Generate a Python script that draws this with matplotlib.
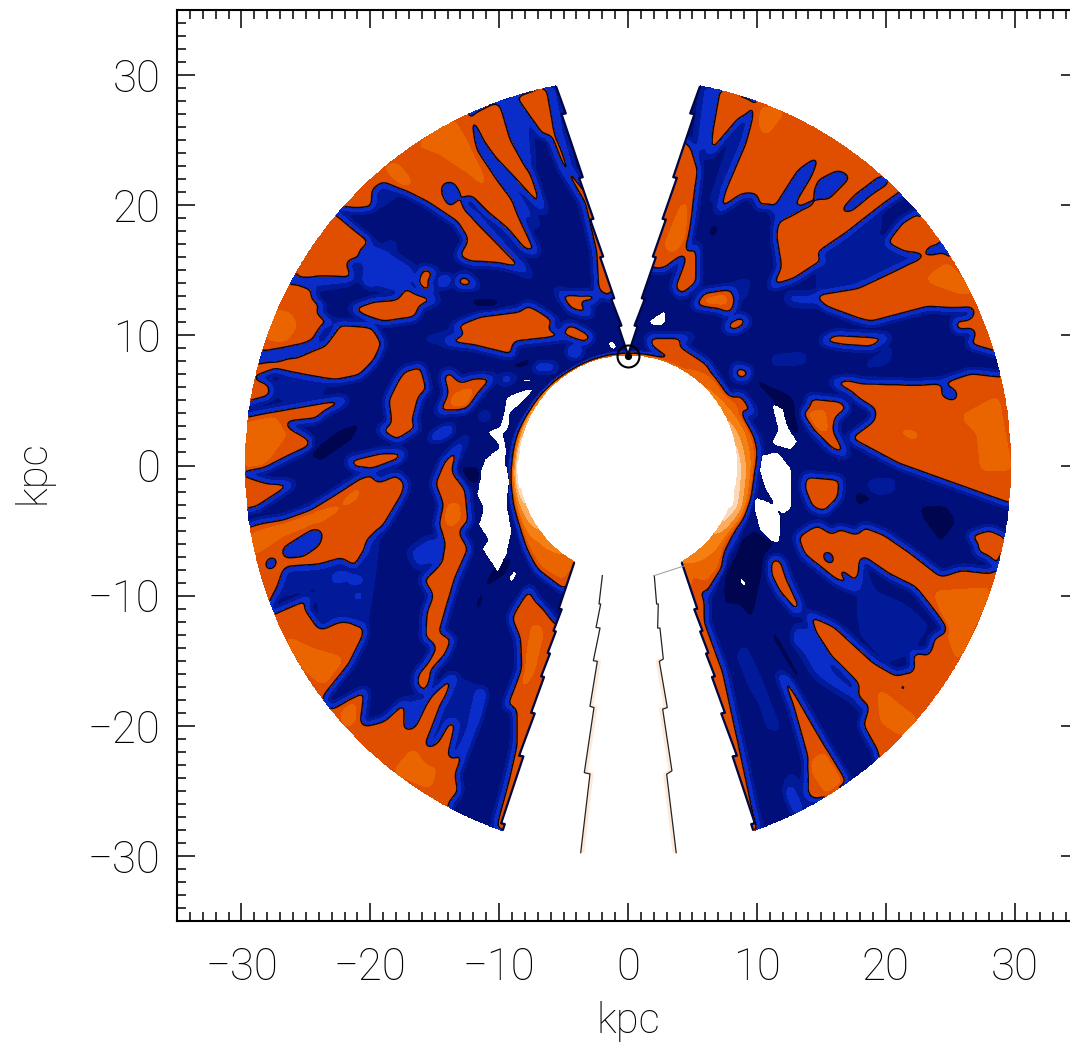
import numpy as np
import matplotlib
matplotlib.use("Agg")
import matplotlib.pyplot as plt
from matplotlib.path import Path
from matplotlib.ticker import MultipleLocator, FuncFormatter

# ---- data ----------------------------------------------------------------
# Outlines of the mapped regions, read in four crops of the map; each crop has its own
# origin in picture pixels and a 3x scale, and is turned into kpc below.
crop_origin = {'q1': (240, 80), 'q2': (628, 80), 'q3': (240, 465), 'q4': (628, 465)}
R_IN, R_OUT, SUN_Y = 8.5, 29.7, 8.5

orange_q1 = [
    [(685,100),(720,190),(790,310),(860,450),(895,525),(850,510),(800,450),(740,400),(690,350),(665,360),(680,395),(720,430),(790,500),(840,560),(880,600),(840,570),(780,555),(720,550),(690,550),(650,530),(680,480),(650,430),(560,370),(500,340),(430,310),(400,330),(400,385),(350,390),(300,385),(200,300),(400,50),(685,50)],
    [(290,400),(350,450),(395,485),(365,505),(355,540),(320,545),(345,600),(300,590),(230,590),(175,600),(100,500),(200,350)],
    [(175,610),(225,630),(215,650),(255,685),(225,690),(260,720),(300,730),(250,735),(225,775),(190,790),(60,815),(0,800),(100,600)],
    [(330,685),(400,660),(470,655),(500,620),(530,640),(600,660),(540,680),(530,715),(430,730),(370,710)],
    [(410,610),(440,600),(470,625),(450,635)],
    [(530,610),(545,560),(590,575),(565,605),(585,640),(545,630)],
    [(650,590),(680,585),(715,620),(650,620)],
    [(605,590),(630,590),(625,615),(590,620)],
    [(365,590),(385,590),(400,625),(375,610)],
    [(440,490),(462,495),(455,510)],
    [(472,530),(490,545),(480,560)],
    [(430,790),(400,740),(370,735),(300,730),(255,790),(250,800),(130,840),(60,850),(0,850),(0,905),(100,870),(200,890),(285,905),(360,890),(405,845)],
    [(0,900),(50,895),(90,910),(95,950),(40,965),(0,975)],
    [(0,1010),(100,990),(300,955),(325,960),(280,985),(250,1000),(230,1020),(130,1030),(210,1075),(215,1100),(150,1130),(80,1165),(0,1178)],
    [(645,735),(720,705),(840,690),(860,670),(900,690),(950,725),(920,745),(1000,770),(820,790),(820,830),(700,800),(610,790),(590,780),(610,770),(660,765),(640,750)],
    [(945,625),(1010,660),(1060,700),(1040,705),(990,690)],
    [(990,730),(1060,770),(1040,790),(990,775),(965,745)],
    [(950,640),(1000,640),(1070,640),(1075,660),(1045,670)],
    [(990,800),(1025,800),(1015,830),(985,825)],
    [(880,855),(950,855),(940,868),(885,868)],
    [(770,898),(830,885),(800,908)],
    [(605,885),(630,870),(660,905),(700,890),(765,890),(720,940),(680,990),(590,1000),(620,940)],
    [(490,870),(545,855),(565,930),(540,950),(520,1030),(540,1040),(470,1085),(415,1050),(450,1030),(440,960),(470,900)],
    [(320,1140),(420,1115),(495,1115),(480,1140),(400,1170),(340,1165)],
    [(565,1080),(600,1050),(640,1035),(630,1060),(585,1080)],
    [(715,1010),(745,1000),(740,1015)],
    [(825,45),(920,15),(945,150),(990,265),(1060,360),(1130,640),(1090,630),(1030,370),(965,265),(925,165),(905,170),(860,100)],
    [(690,100),(770,60),(830,180),(880,290),(918,405),(860,340),(790,260),(740,200)],
    [(1060,440),(1120,600),(1110,660),(1070,630)],
]
orange_q2 = [
    [(275,20),(385,60),(330,125),(275,190),(240,235),(250,150)],
    [(390,60),(350,100),(330,180),(290,330),(265,400),(345,345),(385,345),(390,385),(420,375),(440,390),(445,425),(440,470),(455,560),(425,625),(500,600),(600,535),(565,525),(660,460),(770,375),(820,340),(850,300),(800,100),(400,0)],
    [(770,490),(830,520),(885,525),(905,505),(935,495),(960,470),(870,395),(820,425)],
    [(565,640),(570,665),(595,685),(690,720),(730,730),(900,685),(975,690),(1060,685),(1040,560),(960,520),(905,520),(860,540),(830,555),(690,620)],
    [(1040,685),(1025,720),(1040,760),(1020,795),(1105,820),(1200,800),(1100,650)],
    [(975,720),(1025,715),(1035,750),(985,755)],
    [(580,780),(620,760),(790,770),(730,805),(650,800),(590,790)],
    [(195,680),(225,635),(330,620),(320,690),(300,705),(270,690)],
    [(290,750),(300,725),(340,705),(365,725),(325,755)],
    [(320,855),(370,870),(355,900),(320,895)],
    [(300,950),(340,940),(385,1005),(325,990)],
    [(60,770),(200,770),(150,790),(240,850),(250,880),(180,850),(100,825),(65,800)],
    [(135,625),(175,520),(210,490),(210,610),(160,650)],
    [(110,570),(175,520),(195,420),(205,340),(215,270),(190,195),(130,150),(60,570)],
    [(605,905),(660,895),(700,905),(870,910),(940,905),(1030,875),(1115,885),(1200,885),(1200,1275),(1145,1275),(810,1155),(660,1075),(735,1020),(740,990),(690,960),(670,940)],
    [(540,950),(640,960),(665,985),(625,1015),(620,1050),(660,1130),(610,1110),(560,1060),(520,1000),(545,975)],
    [(100,825),(170,845),(240,850),(260,885),(300,950),(340,1000),(385,1070),(395,1120),(385,1170),(300,1170),(250,950)],
    [(435,838),(530,830),(525,840),(440,845)],
]
orange_q3 = [
    [(0,25),(80,50),(165,55),(50,130),(0,140)],
    [(0,190),(60,170),(130,160),(210,130),(290,80),(360,35),(400,25),(410,50),(470,25),(500,55),(490,90),(430,190),(405,215),(385,240),(345,310),(305,285),(250,300),(135,310),(135,325),(100,395),(85,440),(60,450),(0,300)],
    [(105,440),(220,390),(195,425),(240,490),(300,465),(375,470),(375,510),(330,600),(250,700),(270,730),(380,670),(365,780),(430,765),(500,700),(490,795),(525,790),(565,700),(575,685),(640,625),(650,640),(605,720),(575,800),(555,850),(590,830),(625,770),(650,770),(625,880),(655,870),(690,790),(720,670),(735,680),(715,760),(680,850),(650,930),(660,980),(630,1015),(630,1090),(200,900),(0,500)],
    [(690,-95),(610,-15),(580,55),(605,120),(590,180),(615,235),(605,290),(545,345),(575,390),(555,440),(550,520),(605,495),(620,440),(650,340),(690,250),(660,200),(690,170),(680,70),(640,20),(655,-40)],
    [(550,520),(600,500),(640,520),(620,570),(575,620),(575,645),(555,690),(525,660),(530,625),(560,590),(585,545)],
    [(870,365),(885,400),(915,430),(945,470),(1000,500),(880,1120),(765,1095),(770,1060),(800,950),(825,840),(825,730),(795,725),(840,610),(835,520),(810,460),(825,430),(850,390)],
    [(830,0),(880,0),(1000,290),(990,345),(975,380),(890,310),(860,255),(845,200),(825,120)],
    [(340,395),(358,375),(360,420),(335,430)],
    [(270,345),(310,320),(375,345),(350,355),(300,345)],
]
orange_q4 = [
    [(505,215),(540,190),(570,175),(615,205),(630,185),(690,205),(705,180),(770,205),(850,260),(940,330),(1000,310),(1085,320),(1110,310),(1200,330),(1150,800),(750,900),(745,860),(700,780),(720,720),(690,700),(690,660),(640,610),(610,580),(530,440),(620,480),(740,590),(810,630),(820,620),(855,620),(850,560),(905,560),(915,515),(960,495),(860,370),(780,330),(700,275),(690,380),(625,350),(525,270)],
    [(735,445),(775,490),(800,510),(830,550),(780,540),(730,490)],
    [(425,280),(460,280),(480,340),(520,425),(510,450),(450,380),(425,330)],
    [(500,500),(530,505),(570,590),(570,630),(545,600),(500,525)],
    [(450,620),(480,640),(560,780),(660,950),(600,1000),(535,1010),(535,880),(490,720)],
    [(475,950),(525,1040),(505,1045),(480,990)],
    [(170,295),(225,395),(235,400),(235,470),(290,620),(340,850),(380,1040),(395,1095),(350,1120),(100,300)],
    [(300,0),(385,0),(370,100),(345,160),(295,210),(285,255),(295,300),(270,330),(235,395),(170,295),(150,250)],
    [(530,30),(640,40),(635,100),(590,145),(550,130),(525,70)],
    [(1020,210),(1085,190),(1140,215),(1110,310),(1085,280),(1040,260),(1050,240)],
]
light_q1 = [
    [(530,195),(640,120),(700,220),(745,330),(690,280),(600,220)],
    [(430,260),(470,250),(520,310),(490,320)],
    [(70,770),(100,690),(150,700),(170,740),(130,790)],
    [(50,850),(100,850),(90,875),(50,880)],
    [(15,1030),(100,1010),(140,1060),(60,1170),(10,1170)],
    [(630,950),(700,920),(690,980),(640,990)],
    [(990,740),(1050,765),(1035,780),(990,765)],
]
light_q2 = [
    [(400,80),(470,95),(410,170),(395,130)],
    [(110,500),(150,400),(175,350),(180,470),(130,520)],
    [(495,515),(550,480),(530,510)],
    [(900,590),(960,550),(1040,640),(1000,640),(900,605)],
    [(1000,1010),(1110,950),(1150,1170),(1060,1170),(1050,1060)],
    [(780,1040),(880,1060),(860,1080)],
    [(530,1000),(590,990),(600,1060),(570,1050)],
    [(220,660),(290,640),(300,670),(240,680)],
]
light_q3 = [
    [(30,210),(140,170),(300,120),(370,50),(350,100),(240,170),(130,210),(40,270)],
    [(625,120),(655,110),(660,160),(630,190),(610,150)],
    [(880,470),(910,500),(880,620),(840,690),(855,600)],
    [(300,750),(340,700),(350,760),(320,790)],
    [(130,510),(210,550),(310,580),(250,660),(190,610)],
    [(460,920),(520,850),(560,910),(590,900),(570,970),(480,930)],
]
light_q4 = [
    [(750,670),(870,765),(820,810),(760,770)],
    [(920,380),(1090,370),(1040,480),(990,590),(950,480)],
    [(540,900),(590,860),(650,950),(600,990)],
]
blue_q1 = [
    [(355,510),(400,490),(440,510),(520,560),(530,600),(470,640),(400,620),(365,580)],
    [(175,595),(300,590),(340,610),(230,625)],
    [(60,815),(190,790),(230,775),(250,800),(170,835),(60,840)],
    [(670,360),(720,400),(860,560),(870,590),(800,520),(700,420)],
    [(690,110),(730,180),(870,380),(900,450),(860,420),(770,300),(710,210)],
    [(775,60),(825,45),(870,130),(880,250),(860,270),(810,180)],
    [(925,15),(950,15),(1000,270),(970,200),(945,120)],
    [(605,310),(640,305),(665,345),(630,385),(605,345)],
    [(525,300),(555,275),(565,290),(545,305)],
]
blue_q2 = [
    [(200,200),(225,15),(270,20),(240,150),(225,245)],
    [(430,395),(510,270),(578,222),(550,290),(490,390),(445,430)],
    [(445,430),(560,375),(570,350),(440,415)],
    [(555,345),(570,300),(630,270),(670,290),(630,330),(600,360),(565,355)],
    [(630,400),(680,345),(760,285),(790,305),(730,345),(670,395)],
    [(475,640),(570,640),(560,680),(480,670)],
    [(940,905),(990,935),(985,965),(940,950)],
    [(850,970),(880,970),(875,985),(850,985)],
    [(920,495),(960,500),(960,520),(925,520)],
]
blue_q3 = [
    [(505,260),(560,220),(610,215),(610,290),(530,310)],
    [(125,250),(220,190),(250,200),(240,240),(190,275),(130,280)],
    [(70,310),(85,275),(115,280),(100,315)],
    [(375,815),(408,790),(390,820)],
    [(490,790),(510,700),(560,700),(525,790)],
]
blue_q4 = [
    [(500,480),(560,490),(620,620),(690,680),(680,710),(600,660),(560,630),(520,560)],
    [(580,255),(615,265),(620,300),(590,290)],
    [(620,295),(690,350),(690,370),(640,335)],
    [(810,680),(825,640),(840,680)],
    [(870,655),(890,665),(880,670)],
    [(890,565),(920,590),(895,585)],
    [(680,715),(700,700),(720,725),(690,730)],
    [(330,560),(350,570),(410,700),(380,680)],
]
mid_q1 = [
    [(100,915),(140,885),(260,910),(240,950),(120,960)],
    [(530,780),(650,745),(680,760),(600,790)],
    [(400,340),(440,315),(480,340),(410,390)],
]
mid_q2 = [
    [(250,350),(300,200),(385,60),(350,190),(290,330),(220,400)],
    [(590,520),(660,470),(770,400),(750,460),(770,500),(860,540),(690,610),(560,620)],
    [(690,870),(800,790),(780,850)],
    [(330,600),(370,600),(350,660),(310,640)],
]
mid_q3 = [
    [(380,230),(420,190),(400,360),(380,480),(340,480),(360,380)],
    [(230,370),(330,330),(360,430),(300,470),(240,460)],
    [(130,320),(240,300),(310,280),(300,330),(210,370),(100,400),(110,380)],
    [(565,840),(640,640),(660,640),(720,670),(690,770),(640,880),(630,870),(650,770),(620,770)],
]
mid_q4 = [
    [(700,280),(740,380),(830,420),(900,480),(850,560),(780,590),(700,510),(690,440)],
    [(330,510),(350,540),(420,700),(460,800),(420,790),(370,640)],
    [(720,45),(800,40),(800,80),(730,90)],
    [(470,950),(530,1015),(560,1015),(490,920)],
]
deep_q1 = [
    [(690,650),(780,655),(780,685),(700,685)],
    [(780,585),(870,620),(820,620)],
    [(200,1120),(290,1050),(370,1020),(340,1080),(240,1150)],
    [(810,850),(880,830),(880,860),(810,870)],
]
deep_q2 = [
    [(380,890),(500,950),(520,1080),(490,1060),(430,960),(380,910)],
    [(240,440),(275,420),(270,470),(240,480)],
    [(355,470),(380,465),(370,495)],
]
deep_q3 = [
    [(165,85),(190,85),(185,105)],
    [(700,420),(760,300),(830,260),(800,330),(740,370),(720,450)],
    [(650,0),(720,0),(720,60),(680,60)],
]
deep_q4 = [
    [(285,260),(380,190),(450,240),(420,260),(375,470),(330,420),(285,420)],
    [(430,470),(530,650),(500,640),(430,520)],
    [(870,120),(960,120),(990,170),(940,240),(880,160)],
    [(680,70),(750,100),(680,130)],
]
white_q1 = [
    [(850,930),(885,925),(850,965),(810,1000),(805,1050),(790,1060),(800,1110),(795,1170),(730,1170),(730,1140),(780,1100),(740,1055),(780,1040),(790,1000),(800,950)],
    [(1100,785),(1125,785),(1130,810),(1110,805)],
    [(840,900),(880,895),(875,905),(845,908)],
]
white_q2 = [
    [(430,970),(465,985),(480,1040),(510,1085),(490,1110),(450,1100),(430,1090),(450,1050),(440,1010)],
    [(60,725),(95,700),(115,690),(110,735),(70,735)],
]
white_q3 = [
    [(725,0),(800,0),(810,50),(800,110),(810,170),(815,200),(800,270),(770,330),(765,310),(750,290),(725,250),(745,225),(715,180),(730,130),(710,90),(720,40)],
    [(805,340),(825,310),(830,330),(815,355)],
]
white_q4 = [
    [(400,-30),(450,-40),(490,10),(490,130),(465,150),(440,120),(410,70),(395,20)],
    [(380,95),(425,110),(460,155),(455,235),(430,230),(395,195),(380,140)],
    [(333,335),(350,345),(355,370),(340,360)],
]
# bright inner rim per azimuth around the Galactic centre (deg clockwise from +y)
rim_azimuth = [-150, -140, -130, -120, -110, -100, -90, -75, -60, -45, -30,
               30, 45, 60, 75, 90, 100, 110, 120, 130, 140, 150]
rim_width = [2.5, 2.7, 2.0, 1.5, 1.2, 1.0, 0.8, 0.7, 0.4, 0.3, 0.2,
             0.5, 1.3, 1.3, 1.5, 1.5, 1.5, 1.6, 1.8, 2.5, 2.7, 3.0]
rim_peak = [2.2, 2.6, 3.0, 4.0, 4.5, 5.8, 5.8, 4.5, 3.6, 3.0, 2.0,
            1.8, 2.5, 3.0, 4.2, 5.0, 5.2, 5.8, 4.5, 3.2, 3.0, 2.6]
# stepped edges of the excluded wedges: distance from the Sun, offset in kpc
low_step_d = [16, 19.5, 19.51, 21.2, 21.21, 22.9, 22.91, 24.7, 24.71, 27.5, 27.51, 30.8, 30.81, 36, 36.01, 39]
low_step_s = [-.1, .15, -.1, .1, -.1, .1, -.1, .12, -.12, .15, -.15, .2, -.15, .2, -.1, .05]
up_step_d = [0, 2.2, 2.21, 4.3, 4.31, 7.5, 7.51, 10.4, 10.41, 13.6, 13.61, 18.5, 18.51, 21.6, 21.61, 23]
up_step_s = [0, .15, -.1, .15, -.1, .15, -.1, .15, -.12, .15, -.15, .2, -.15, .15, -.1, .05]
# thin lines inside the lower wedge
line_l_x = [-1.99, -2.25, -2.12, -2.48, -2.17, -2.69, -2.38, -2.95, -2.64, -3.39, -2.95, -3.67]
line_l_y = [-8.46, -10.64, -10.64, -12.44, -12.49, -15.0, -15.05, -18.5, -18.6, -23.6, -23.7, -29.75]
line_r_x = [2.04, 2.22, 2.35, 2.30, 2.48, 2.74, 2.43, 3.05, 2.69, 3.41, 3.0, 3.74]
line_r_y = [-8.46, -10.64, -10.64, -12.49, -12.49, -14.87, -15.05, -18.6, -18.72, -23.46, -23.72, -29.75]
cap_x = [2.04, 4.4]
cap_y = [-8.46, -7.7]
level_base, level_orange, level_light = -3.0, 1.2, 2.1
level_blue, level_mid, level_deep = -1.2, -2.1, -4.2
levels = [-100, -4.8, -3.7, -2.6, -1.6, 0, 1.6, 2.5, 3.5, 4.5, 5.5, 100]
colors = ['#ffffff', '#00054f', '#000f7a', '#001a9a', '#0a2cc8', '#e04e00', '#ea6400',
          '#f57f10', '#fbac5c', '#fdd8b8', '#ffffff']
ticks = [-30, -20, -10, 0, 10, 20, 30]

# ---- build the map --------------------------------------------------------
step = 0.05
xs = np.arange(-31, 31.001, step)
ys = np.arange(-31, 31.001, step)
X, Y = np.meshgrid(xs, ys)

def to_kpc(q, poly):
    ox, oy = crop_origin[q]
    p = np.array(poly, float)
    return np.c_[(ox + p[:, 0] / 3 - 628) / 12.89, (465.5 - (oy + p[:, 1] / 3)) / 13.01]

def paint(mask_target, q, polys):
    for poly in polys:
        v = to_kpc(q, poly)
        i0 = max(np.searchsorted(xs, v[:, 0].min()) - 1, 0)
        i1 = np.searchsorted(xs, v[:, 0].max()) + 1
        j0 = max(np.searchsorted(ys, v[:, 1].min()) - 1, 0)
        j1 = np.searchsorted(ys, v[:, 1].max()) + 1
        if i1 <= i0 or j1 <= j0:
            continue
        gx, gy = np.meshgrid(xs[i0:i1], ys[j0:j1])
        inside = Path(v).contains_points(np.c_[gx.ravel(), gy.ravel()]).reshape(gx.shape)
        mask_target[j0:j1, i0:i1] |= inside

def layer(groups):
    m = np.zeros(X.shape, bool)
    for q, polys in groups:
        paint(m, q, polys)
    return m

Z = np.full(X.shape, level_base, float)
Z[layer([('q1', orange_q1), ('q2', orange_q2), ('q3', orange_q3), ('q4', orange_q4)])] = level_orange
Z[layer([('q1', mid_q1), ('q2', mid_q2), ('q3', mid_q3), ('q4', mid_q4)])] = level_mid
Z[layer([('q1', blue_q1), ('q2', blue_q2), ('q3', blue_q3), ('q4', blue_q4)])] = level_blue
Z[layer([('q1', deep_q1), ('q2', deep_q2), ('q3', deep_q3), ('q4', deep_q4)])] = level_deep
Z[layer([('q1', light_q1), ('q2', light_q2), ('q3', light_q3), ('q4', light_q4)])] = level_light

def blur(a, half):
    n = 2 * half + 1
    for _ in range(3):
        for axis in (0, 1):
            pad = [(half, half) if i == axis else (0, 0) for i in range(2)]
            b = np.pad(a, pad, mode='edge')
            c = np.cumsum(b, axis=axis)
            c = np.concatenate([np.zeros_like(np.take(c, [0], axis=axis)), c], axis=axis)
            a = (np.take(c, range(n, c.shape[axis]), axis=axis) -
                 np.take(c, range(0, c.shape[axis] - n), axis=axis)) / n
    return a

Z = blur(Z, 5)
R = np.hypot(X, Y)
AZ = np.degrees(np.arctan2(X, Y))
w = np.interp(AZ, rim_azimuth, rim_width)
pk = np.interp(AZ, rim_azimuth, rim_peak)
t = (R - R_IN) / w
Z = np.where(t < 1, pk * (1 - t) + Z * t, Z)
W_holes = layer([('q1', white_q1), ('q2', white_q2), ('q3', white_q3), ('q4', white_q4)])
Z = np.where(blur(W_holes.astype(float), 2) > 0.5, -9.0, Z)

tan15 = np.tan(np.radians(15))
along_u = Y - SUN_Y
along_l = SUN_Y - Y
W = np.where(Y >= SUN_Y,
             np.abs(X) - (along_u * tan15 + np.interp(along_u, up_step_d, up_step_s)),
             np.abs(X) - (along_l * tan15 + np.interp(along_l, low_step_d, low_step_s)))
outside = (R < R_IN) | (R > R_OUT)
Zm = np.ma.array(Z, mask=outside | (W < 0))
Wm = np.ma.array(W, mask=outside)

# ---- draw -----------------------------------------------------------------
plt.rcParams['font.family'] = ['Roboto', 'DejaVu Sans']
plt.rcParams['font.weight'] = 'light'
fig = plt.figure(figsize=(10.70, 10.46), dpi=100)
ax = fig.add_axes([177 / 1070, (1046 - 921) / 1046, 902 / 1070, 911 / 1046])
cf = ax.contourf(X, Y, Zm, levels=levels, colors=colors, zorder=1)
cf.set_edgecolor('face')
cf.set_linewidth(0.25)
ax.contour(X, Y, Zm, levels=[0], colors='#050510', linewidths=1.05, zorder=2)
ax.contour(X, Y, Wm, levels=[0], colors='#00063f', linewidths=1.6, zorder=3)

for lx, ly, off in ((line_l_x, line_l_y, 0.16), (line_r_x, line_r_y, -0.16)):
    ax.plot(np.array(lx[5:]) + off, ly[5:], color='#fdeadb', lw=2.2, zorder=3, solid_capstyle='butt')
    ax.plot(lx, ly, color='#222222', lw=0.9, zorder=4)
ax.plot(cap_x, cap_y, color='#999999', lw=0.7, zorder=4)

ax.plot([0], [8.4], marker='o', ms=15.8, mfc='none', mec='black', mew=1.5, zorder=6)
ax.plot([0], [8.4], marker='o', ms=4.2, mfc='black', mec='black', zorder=6)

ax.set_xlim(-35, 35)
ax.set_ylim(-35, 35)
ax.set_xticks(ticks)
ax.set_yticks(ticks)
ax.xaxis.set_minor_locator(MultipleLocator(1))
ax.yaxis.set_minor_locator(MultipleLocator(1))
fmt = FuncFormatter(lambda v, p: f"{int(v)}".replace('-', '\u2212'))
ax.xaxis.set_major_formatter(fmt)
ax.yaxis.set_major_formatter(fmt)
ax.tick_params(which='major', direction='in', length=13, width=1.1, top=True, right=True)
ax.tick_params(which='minor', direction='in', length=6.5, width=1.1, top=True, right=True)
ax.tick_params(axis='x', which='major', pad=18, labelsize=31.5)
ax.tick_params(axis='y', which='major', pad=12, labelsize=31.5)
for s in ax.spines.values():
    s.set_linewidth(1.5)
fig.text(628 / 1070, 1 - 1022 / 1046, 'kpc', fontsize=30, ha='center', va='center')
fig.text(33 / 1070, 1 - 472 / 1046, 'kpc', fontsize=30, ha='center', va='center', rotation=90)
fig.savefig('out.png', dpi=100)
